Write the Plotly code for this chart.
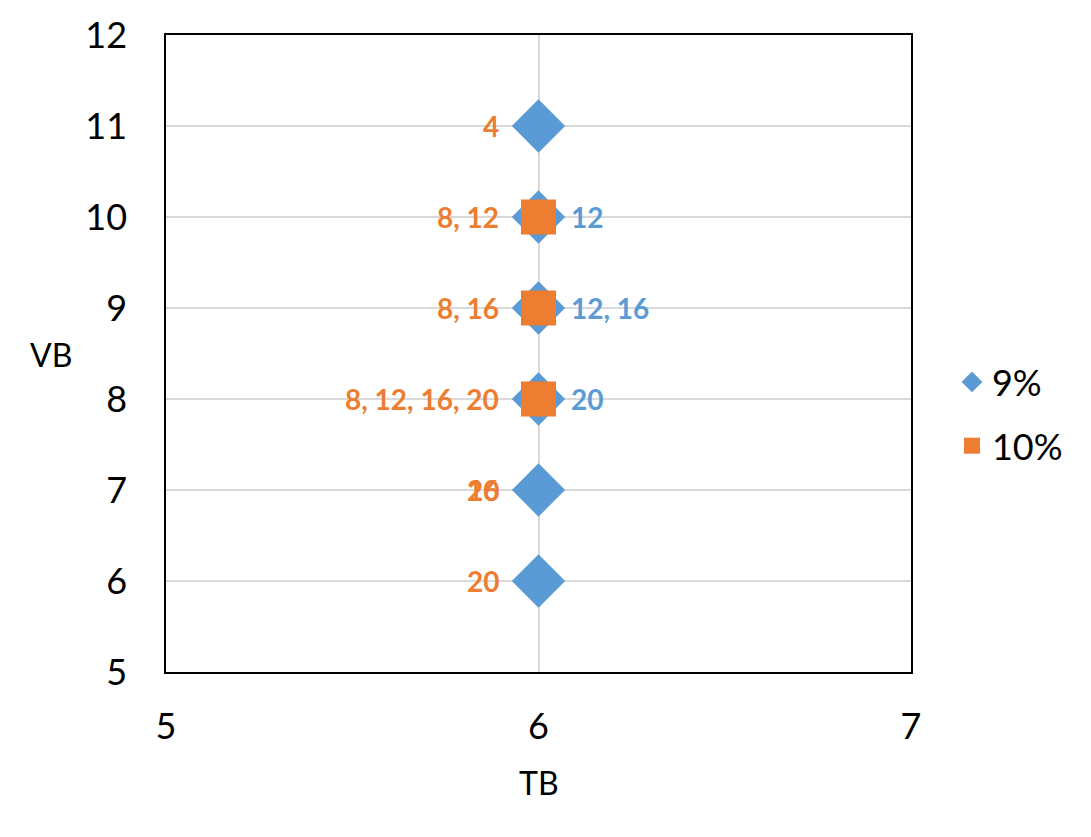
import plotly.graph_objects as go

# Data
tb_9 = [6, 6, 6, 6, 6, 6]
vb_9 = [11, 10, 9, 8, 7, 6]
tb_10 = [6, 6, 6]
vb_10 = [10, 9, 8]

orange_label_y = [11, 10, 9, 8, 7, 7, 6]
orange_label_text = ["4", "8, 12", "8, 16", "8, 12, 16, 20", "16", "20", "20"]
blue_label_y = [10, 9, 8]
blue_label_text = ["12", "12, 16", "20"]

x_ticks = [5, 6, 7]
y_ticks = [5, 6, 7, 8, 9, 10, 11, 12]

BLUE = "#5B9BD5"
ORANGE = "#ED7D31"
FONT = "Lato"

fig = go.Figure()
fig.add_trace(go.Scatter(x=tb_9, y=vb_9, mode="markers", name="9%",
                         legendgroup="a",
                         marker=dict(symbol="diamond", size=41, color=BLUE)))
fig.add_trace(go.Scatter(x=tb_10, y=vb_10, mode="markers", name="10%",
                         legendgroup="b",
                         marker=dict(symbol="square", size=35, color=ORANGE)))

for y, t in zip(orange_label_y, orange_label_text):
    fig.add_annotation(x=6, y=y, text=f"<b>{t}</b>", showarrow=False,
                       xanchor="right", yanchor="middle", xshift=-38,
                       font=dict(family=FONT, size=28, color=ORANGE))
for y, t in zip(blue_label_y, blue_label_text):
    fig.add_annotation(x=6, y=y, text=f"<b>{t}</b>", showarrow=False,
                       xanchor="left", yanchor="middle", xshift=30,
                       font=dict(family=FONT, size=28, color=BLUE))

fig.add_annotation(xref="paper", yref="paper", x=-0.155, y=0.498, text="VB",
                   xanchor="center", yanchor="middle",
                   showarrow=False, font=dict(family=FONT, size=32, color="black"))
fig.add_annotation(xref="paper", yref="paper", x=0.5, y=-0.173, text="TB",
                   xanchor="center", yanchor="middle",
                   showarrow=False, font=dict(family=FONT, size=32, color="black"))

fig.update_xaxes(range=[5, 7], tickvals=x_ticks, showgrid=True, gridcolor="#D9D9D9",
                 gridwidth=1.5, showline=True, linecolor="black", linewidth=1.5,
                 mirror=True, zeroline=False, ticks="outside", ticklen=0,
                 ticklabelstandoff=22,
                 tickfont=dict(family=FONT, size=36, color="black"))
fig.update_yaxes(range=[5, 12], tickvals=y_ticks, showgrid=True, gridcolor="#D9D9D9",
                 gridwidth=1.5, showline=True, linecolor="black", linewidth=1.5,
                 mirror=True, zeroline=False, ticks="outside", ticklen=0,
                 ticklabelstandoff=30,
                 tickfont=dict(family=FONT, size=36, color="black"))

fig.update_layout(width=1091, height=837,
                  margin=dict(l=166, r=180, t=35, b=165),
                  plot_bgcolor="white", paper_bgcolor="white",
                  showlegend=True,
                  legend=dict(x=1.055, y=0.405, xanchor="left", yanchor="middle",
                              tracegroupgap=14,
                              font=dict(family=FONT, size=36, color="black")))

fig.write_html("out.html")
